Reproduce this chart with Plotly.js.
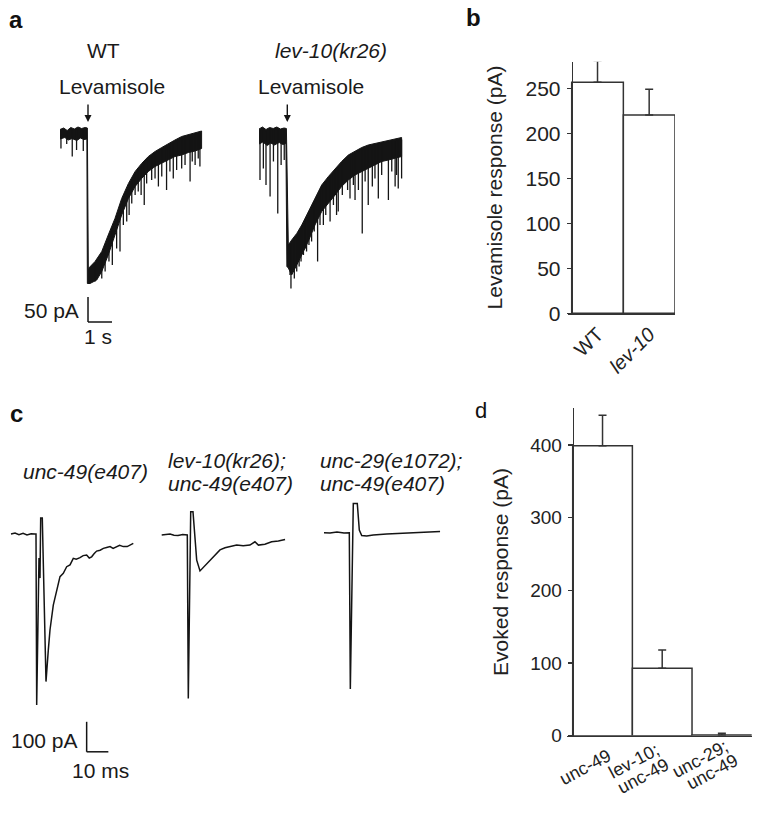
<!DOCTYPE html>
<html>
<head>
<meta charset="utf-8">
<script src="https://cdn.plot.ly/plotly-3.0.1.min.js"></script>
<style>html,body{margin:0;padding:0;background:#fff;}#chart{width:762px;height:823px;}</style>
</head>
<body>
<div id="chart"></div>
<script>
// ---------------- DATA ----------------
// Panel a: levamisole-evoked currents (time in s, current in pA)
// WT: upper and lower envelopes of the noisy trace, plus visible downward spikes
const wtTopT = [0, 0.15, 0.3, 0.45, 0.6, 0.75, 0.9, 1.05, 1.14, 1.18, 1.46, 1.74, 2.01, 2.29, 2.57, 2.85, 3.13, 3.40, 3.68, 3.96, 4.24, 4.51, 4.79, 5.07, 5.35, 5.63, 5.90];
const wtTopI = [7, 10, 5, 11, 8, 12, 9, 11, 10, -271, -257, -237, -204, -171, -131, -101, -77, -61, -47, -37, -29, -21, -14, -7, -3, 1, 4];
const wtBotT = [0, 0.2, 0.35, 0.5, 0.7, 0.85, 1.0, 1.12, 1.14, 1.25, 1.53, 1.74, 2.01, 2.29, 2.57, 2.85, 3.13, 3.40, 3.68, 3.96, 4.24, 4.51, 4.79, 5.07, 5.35, 5.63, 5.90];
const wtBotI = [-12, -9, -14, -11, -15, -10, -13, -12, -301, -301, -294, -277, -244, -204, -164, -131, -107, -91, -77, -67, -61, -54, -47, -44, -39, -36, -31];
const wtSpikeT = [0.04, 0.28, 0.51, 0.69, 0.97, 1.46, 1.74, 1.88, 2.04, 2.18, 2.36, 2.50, 2.64, 2.78, 2.88, 2.99, 3.13, 3.26, 3.38, 3.51, 3.61, 3.82, 3.96, 4.10, 4.24, 4.44, 4.58, 4.72, 4.86, 5.07, 5.21, 5.42, 5.51, 5.63, 5.76, 5.83];
const wtSpikeI = [-31, -22, -47, -34, -36, -297, -291, -277, -257, -264, -231, -237, -184, -177, -164, -141, -124, -117, -124, -144, -101, -94, -91, -107, -87, -114, -77, -91, -74, -71, -64, -97, -57, -64, -51, -67];

// lev-10(kr26)
const levTopT = [-0.04, 0.1, 0.25, 0.4, 0.55, 0.7, 0.85, 1.0, 1.10, 1.18, 1.32, 1.53, 1.74, 2.01, 2.29, 2.57, 2.85, 3.13, 3.40, 3.68, 3.96, 4.24, 4.51, 4.79, 5.07, 5.35, 5.63, 5.90];
const levTopI = [8, 12, 7, 11, 9, 12, 8, 10, 9, -224, -214, -201, -184, -157, -131, -104, -87, -71, -57, -44, -36, -29, -24, -21, -17, -14, -12, -9];
const levBotT = [-0.04, 0.12, 0.3, 0.45, 0.6, 0.8, 0.95, 1.08, 1.12, 1.18, 1.32, 1.53, 1.74, 2.01, 2.29, 2.57, 2.85, 3.13, 3.40, 3.68, 3.96, 4.24, 4.51, 4.79, 5.07, 5.35, 5.63, 5.90];
const levBotI = [-22, -18, -25, -20, -24, -19, -23, -21, -267, -270, -284, -264, -244, -217, -184, -157, -141, -124, -107, -94, -84, -77, -71, -64, -57, -54, -51, -47];
const levSpikeT = [0, 0.14, 0.25, 0.42, 0.56, 0.74, 0.88, 1.01, 1.25, 1.29, 1.43, 1.53, 1.63, 1.71, 1.81, 1.88, 1.94, 2.04, 2.15, 2.26, 2.40, 2.50, 2.64, 2.74, 2.92, 3.06, 3.19, 3.26, 3.43, 3.65, 3.75, 3.89, 3.96, 4.10, 4.26, 4.38, 4.51, 4.68, 4.79, 4.93, 5.07, 5.35, 5.49, 5.63, 5.69, 5.76, 5.90];
const levSpikeI = [-94, -71, -104, -127, -57, -161, -64, -54, -284, -311, -291, -277, -267, -257, -244, -231, -237, -224, -217, -197, -257, -184, -184, -164, -177, -144, -164, -157, -124, -114, -131, -104, -134, -114, -201, -97, -144, -107, -91, -131, -84, -134, -77, -107, -84, -111, -91];

// Panel b: levamisole response (pA)
const bCategories = ['WT', 'lev-10'];
const bTickText = ['WT', '<i>lev-10</i>'];
const bValues = [256.7, 220.3];
const bErrors = [24, 28.6];
const bTicks = [0, 50, 100, 150, 200, 250];

// Panel c: evoked currents (time in ms from stimulus, current in pA)
const c1T = [-11.06, -9.2, -7.4, -5.5, -3.7, -1.8, 0, 0.46, 0.78, 1.84, 2.3, 2.62, 3.36, 5.07, 6.13, 6.91, 8.43, 10.0, 11.52, 13.04, 14.6, 16.13, 17.65, 19.0, 20.74, 22.2, 23.8, 25.0, 26.1, 27.2, 28.4, 30.0, 31.5, 33.0, 34.6, 36.0, 37.6, 39.0, 40.7, 42.5, 45.3];
const c1I = [0, 3, -2, 2, -3, 1, 0, 0, -570, -80, -147, 53, 53, -492, -387, -320, -237, -192, -142, -131, -109, -103, -81, -84, -79, -72, -70, -80, -76, -66, -57, -54, -48, -45, -42, -48, -42, -38, -42, -42, -31];
const c2T = [-11.66, -9.5, -7.83, -6, -4.15, -2, -0.14, 0.14, 0.6, 1.71, 2.76, 4.47, 5.99, 7.51, 9.08, 10.6, 12.9, 15.2, 17.5, 19.8, 22.9, 25.9, 29.0, 31.3, 32.9, 35.9, 39.0, 42.1, 45.2];
const c2I = [-3, 0, 0, -4, -5, -2, -3, -3, -548, 74, 74, -87, -123, -112, -98, -87, -70, -53, -46, -42, -37, -39, -37, -26, -37, -34, -26, -23, -18];
const c3T = [-11.98, -9.2, -6.0, -2.76, -0.32, 0.15, 1.52, 3.36, 4.29, 5.39, 7.7, 10.7, 16.9, 23.0, 29.2, 35.3, 41.5];
const c3I = [4, 3, 7, 3, 4, -517, 102, 102, 13, -5, -7, -3, 0, 2, 4, 7, 8];

// Panel d: evoked response (pA)
const dCategories = ['unc-49', 'lev-10; unc-49', 'unc-29; unc-49'];
const dTickLines = [['unc-49'], ['lev-10;', 'unc-49'], ['unc-29;', 'unc-49']];
const dValues = [399, 92.7, 1];
const dErrors = [42, 25.3, 2.3];
const dTicks = [0, 100, 200, 300, 400];

// Scale bars
const scaleA = {pA: 50, s: 1, t0: 1.167, i0: -378};
const scaleC = {pA: 100, ms: 10, t0: 23.8, i0: -726};

// ---------------- LAYOUT HELPERS ----------------
const W = 762, H = 823;
const fx = x => x / W;
const fy = y => 1 - y / H;
const FONT = 'Liberation Sans, Arial, Helvetica, sans-serif';
const INK = '#141414';

function interp(ts, vs, t) {
  if (t <= ts[0]) return vs[0];
  for (let k = 1; k < ts.length; k++) {
    if (t <= ts[k]) {
      const f = (t - ts[k - 1]) / (ts[k] - ts[k - 1]);
      return vs[k - 1] + f * (vs[k] - vs[k - 1]);
    }
  }
  return vs[vs.length - 1];
}
function band(topT, topI, botT, botI, xa) {
  return {
    type: 'scatter', mode: 'lines', xaxis: xa, yaxis: 'y',
    x: topT.concat(botT.slice().reverse()),
    y: topI.concat(botI.slice().reverse()),
    fill: 'toself', fillcolor: INK,
    line: {color: INK, width: 1}, hoverinfo: 'skip'
  };
}
function spikes(sT, sI, topT, topI, xa) {
  const x = [], y = [];
  sT.forEach((t, k) => {
    x.push(t, t, null);
    y.push(interp(topT, topI, t) - 4, sI[k], null);
  });
  return {type: 'scatter', mode: 'lines', xaxis: xa, yaxis: 'y', x, y,
    line: {color: INK, width: 1.3}, hoverinfo: 'skip', connectgaps: false};
}
function evoked(t, i, xa) {
  return {type: 'scatter', mode: 'lines', xaxis: xa, yaxis: 'y4', x: t, y: i,
    line: {color: INK, width: 1.5}, hoverinfo: 'skip'};
}

const data = [
  band(wtTopT, wtTopI, wtBotT, wtBotI, 'x'),
  spikes(wtSpikeT, wtSpikeI, wtTopT, wtTopI, 'x'),
  band(levTopT, levTopI, levBotT, levBotI, 'x2'),
  spikes(levSpikeT, levSpikeI, levTopT, levTopI, 'x2'),
  {
    type: 'bar', xaxis: 'x3', yaxis: 'y2', x: bCategories, y: bValues, width: 1,
    marker: {color: 'white', line: {color: '#333', width: 1.5}},
    error_y: {type: 'data', symmetric: false, array: bErrors, arrayminus: [0, 0], color: '#333', thickness: 1.5, width: 4},
    hoverinfo: 'skip'
  },
  {
    type: 'bar', xaxis: 'x4', yaxis: 'y3', x: dCategories, y: dValues, width: 1,
    marker: {color: 'white', line: {color: '#333', width: 1.5}},
    error_y: {type: 'data', symmetric: false, array: dErrors, arrayminus: [0, 0, 0], color: '#333', thickness: 1.5, width: 4},
    hoverinfo: 'skip'
  },
  evoked(c1T, c1I, 'x5'),
  evoked(c2T, c2I, 'x6'),
  evoked(c3T, c3I, 'x7')
];

const hidden = {visible: false, showgrid: false, zeroline: false, fixedrange: true};
const tA = [(55 - 60) / 24, (210 - 60) / 24];
const tC = [-30 / 2.17, 110 / 2.17];

const barY = (xPos, domTop, domBot, rng, ticks, tickSize, title, standoff) => ({
  domain: [fy(domBot), fy(domTop)], range: rng, showgrid: false, zeroline: false,
  anchor: 'free', position: fx(xPos),
  showline: true, linecolor: '#333', linewidth: 1.5,
  ticks: 'outside', ticklen: 5, tickwidth: 1.5, tickcolor: '#333',
  tickvals: ticks, tickfont: {family: FONT, size: tickSize, color: '#222'},
  ticklabelstandoff: 2,
  title: {text: title, font: {family: FONT, size: 21, color: '#222'}, standoff: standoff},
  fixedrange: true
});
const barX = (l, r, rng, cats, txt, angle, showLabels) => ({
  domain: [fx(l), fx(r)], range: rng, type: 'category', showgrid: false, zeroline: false,
  showline: true, linecolor: '#333', linewidth: 1.5, ticks: '',
  tickvals: cats, ticktext: txt, tickangle: angle, showticklabels: showLabels,
  tickfont: {family: FONT, size: 20, color: '#222'}, fixedrange: true
});

const layout = {
  width: W, height: H, margin: {l: 0, r: 0, t: 0, b: 0, pad: 0},
  paper_bgcolor: '#fff', plot_bgcolor: 'rgba(0,0,0,0)',
  showlegend: false, hovermode: false,
  font: {family: FONT, color: '#222'},
  xaxis: Object.assign({}, hidden, {domain: [fx(55), fx(210)], range: tA, anchor: 'y'}),
  xaxis2: Object.assign({}, hidden, {domain: [fx(255), fx(410)], range: tA, anchor: 'y'}),
  yaxis: Object.assign({}, hidden, {domain: [fy(345), fy(95)], range: [-424, 76], anchor: 'x'}),
  // panel b: x axis line starts ~4 px left of the y axis, as in the reference
  xaxis3: Object.assign(barX(568, 675, [-0.5 - 3.7 / 51.65, 1.5], bCategories, bTickText, -45, true), {anchor: 'y2'}),
  yaxis2: barY(571.7, 61.7, 313.3, [0, 279.6], bTicks, 21, 'Levamisole response (pA)', 15),
  xaxis4: Object.assign(barX(567, 751.7, [-0.5 - 5.7 / 59.67, 2.5], dCategories, dCategories, -28, false), {anchor: 'y3'}),
  yaxis3: barY(572.7, 408.3, 735.7, [0, 450.5], dTicks, 19, 'Evoked response (pA)', 14),
  xaxis5: Object.assign({}, hidden, {domain: [fx(5), fx(145)], range: tC, anchor: 'y4'}),
  xaxis6: Object.assign({}, hidden, {domain: [fx(157), fx(297)], range: tC, anchor: 'y4'}),
  xaxis7: Object.assign({}, hidden, {domain: [fx(320), fx(460)], range: tC, anchor: 'y4'}),
  yaxis4: Object.assign({}, hidden, {domain: [fy(760), fy(480)], range: [(534 - 760) / 0.3, (534 - 480) / 0.3], anchor: 'x5'}),
  shapes: [
    {type: 'line', xref: 'x', yref: 'y', x0: scaleA.t0, x1: scaleA.t0, y0: scaleA.i0, y1: scaleA.i0 + scaleA.pA, line: {color: INK, width: 1.5}},
    {type: 'line', xref: 'x', yref: 'y', x0: scaleA.t0, x1: scaleA.t0 + scaleA.s, y0: scaleA.i0, y1: scaleA.i0, line: {color: INK, width: 1.5}},
    {type: 'line', xref: 'x5', yref: 'y4', x0: scaleC.t0, x1: scaleC.t0, y0: scaleC.i0, y1: scaleC.i0 + scaleC.pA, line: {color: INK, width: 1.5}},
    {type: 'line', xref: 'x5', yref: 'y4', x0: scaleC.t0, x1: scaleC.t0 + scaleC.ms, y0: scaleC.i0, y1: scaleC.i0, line: {color: INK, width: 1.5}}
  ],
  annotations: []
};

function txt(text, x, y, opts) {
  layout.annotations.push(Object.assign({
    text: text, xref: 'paper', yref: 'paper', x: fx(x), y: fy(y),
    xanchor: 'center', yanchor: 'middle', showarrow: false,
    font: {family: FONT, size: 21, color: '#1a1a1a'}
  }, opts || {}));
}
function arrow(x, yHead, yTail) {
  layout.annotations.push({
    text: '', xref: 'paper', yref: 'paper', x: fx(x), y: fy(yHead),
    ax: 0, ay: yTail - yHead, axref: 'pixel', ayref: 'pixel',
    showarrow: true, arrowhead: 2, arrowsize: 1, arrowwidth: 1.4, arrowcolor: INK, standoff: 0
  });
}

// panel d category labels: rotated, one annotation per line, tied to the category positions
const dLabelShift = [15, 3, 12];   // px right of bar centre for the first line's end
const dLabelTop = [743, 737, 733]; // px top of the first line's rotated box
dTickLines.forEach((lines, k) => {
  lines.forEach((line, j) => {
    layout.annotations.push({
      text: line, xref: 'x4', yref: 'paper', x: k, y: fy(dLabelTop[k] + 15 * j),
      xshift: dLabelShift[k] + 10 * j,
      xanchor: 'right', yanchor: 'top', textangle: -28, showarrow: false,
      font: {family: FONT, size: 18, color: '#222'}
    });
  });
});

// panel letters
txt('<b>a</b>', 16, 20, {font: {family: FONT, size: 24, color: '#111'}});
txt('<b>b</b>', 473, 17, {font: {family: FONT, size: 24, color: '#111'}});
txt('<b>c</b>', 16, 413, {font: {family: FONT, size: 24, color: '#111'}});
txt('d', 481, 411, {font: {family: FONT, size: 22, color: '#111'}});
// panel a labels
txt('WT', 103, 50);
txt('<i>lev-10(kr26)</i>', 330.5, 50);
txt('Levamisole', 111.5, 86);
txt('Levamisole', 310.5, 86);
arrow(88, 122, 103);
arrow(287.3, 122, 103);
txt('50 pA', 81, 310, {xanchor: 'right'});
txt('1 s', 98, 337);
// panel c labels
txt('<i>unc-49(e407)</i>', 20.5, 471.5, {xanchor: 'left'});
txt('<i>lev-10(kr26);</i>', 165.5, 460, {xanchor: 'left'});
txt('<i>unc-49(e407)</i>', 165.5, 483.5, {xanchor: 'left'});
txt('<i>unc-29(e1072);</i>', 318, 460, {xanchor: 'left'});
txt('<i>unc-49(e407)</i>', 318, 483.5, {xanchor: 'left'});
txt('100 pA', 80, 740, {xanchor: 'right'});
txt('10 ms', 100, 770);

Plotly.newPlot('chart', data, layout, {staticPlot: true, displayModeBar: false});
</script>
</body>
</html>
